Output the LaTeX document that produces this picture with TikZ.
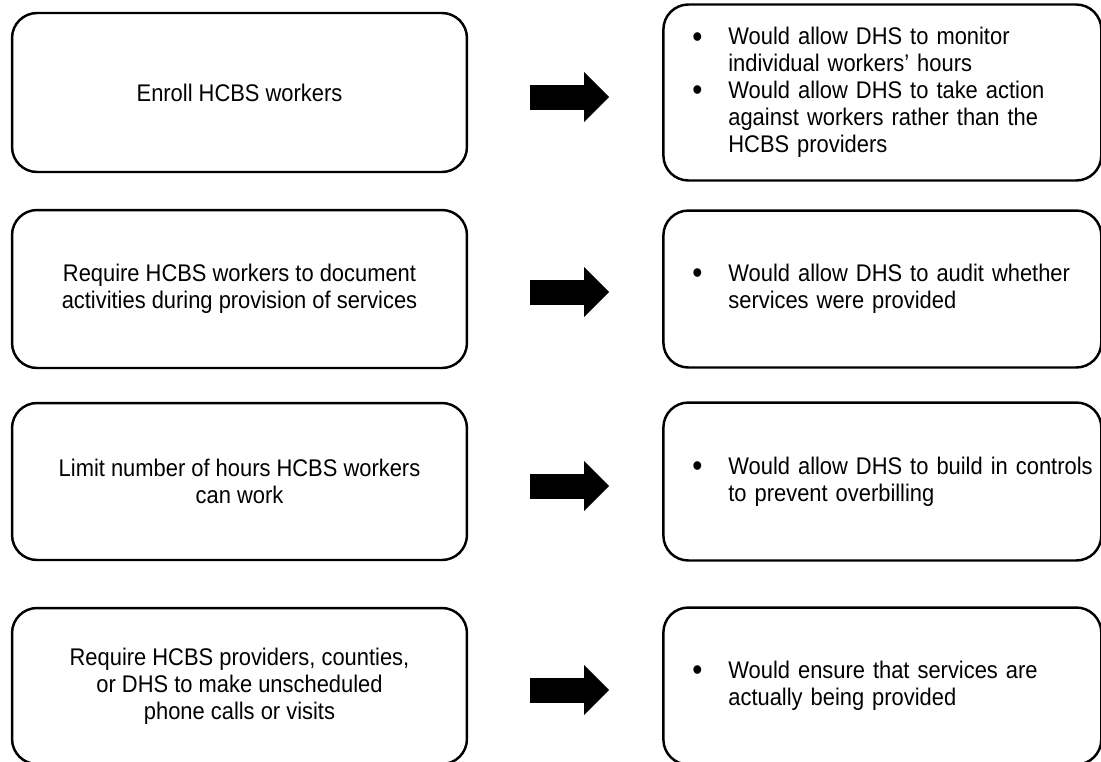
\documentclass[tikz,border=0pt]{standalone}
\usepackage{fontspec}
\setmainfont{Liberation Sans}[FakeStretch=0.91]
\usetikzlibrary{arrows.meta, positioning}
\newcommand{\bpoint}[1]{\mbox{\makebox[0.72cm][l]{\raisebox{-1.2pt}{\fontsize{18}{18}\selectfont\textbullet}}#1}}
\newcommand{\bcont}[1]{\mbox{\hspace*{0.72cm}#1}}
\tikzset{
  % Box styles
  actionbox/.style={rectangle, rounded corners=0.5cm, draw=black, line width=1.4pt, minimum width=9.1cm, align=center, font=\fontsize{13.7}{15.3}\selectfont},
  effectbox/.style={rectangle, rounded corners=0.5cm, draw=black, line width=1.4pt, minimum width=8.76cm, text width=7.6cm, inner xsep=0.58cm, align=left, font=\fontsize{13.7}{15.3}\selectfont},
  % Arrow styles
  fatarrow/.style={line width=0.5cm, -{Triangle[length=0.5cm, width=1cm, line width=0pt]}}
}

\begin{document}
\begin{tikzpicture}[x=0.02cm, y=-0.02cm]
  \useasboundingbox (0,0) rectangle (1101,761);

  % Measures on the left
  \node[actionbox, minimum height=3.18cm] (l1) at (239.5,92.5) {Enroll HCBS workers};
  \node[actionbox, minimum height=3.16cm] (l2) at (239.5,289) {Require HCBS workers to document\\activities during provision of services};
  \node[actionbox, minimum height=3.14cm] (l3) at (239.5,481.5) {Limit number of hours HCBS workers\\can work};
  \node[actionbox, minimum height=3.12cm] (l4) at (239.5,686) {Require HCBS providers, counties,\\or DHS to make unscheduled\\phone calls or visits};

  % Effects on the right
  \node[effectbox, minimum height=3.52cm, right=3.88cm of l1] (r1) {\bpoint{Would allow DHS to monitor}\\\bcont{individual workers' hours}\\\bpoint{Would allow DHS to take action}\\\bcont{against workers rather than the}\\\bcont{HCBS providers}};
  \node[effectbox, minimum height=3.14cm, right=3.88cm of l2] (r2) {\bpoint{Would allow DHS to audit whether}\\\bcont{services were provided}};
  \node[effectbox, minimum height=3.16cm, right=3.88cm of l3] (r3) {\bpoint{Would allow DHS to build in controls}\\\bcont{to prevent overbilling}};
  \node[effectbox, minimum height=3.14cm, right=3.88cm of l4] (r4) {\bpoint{Would ensure that services are}\\\bcont{actually being provided}};

  % Arrows
  \draw[fatarrow] ([shift={(1.24cm,-0.09cm)}]l1.east) -- ([shift={(-1.06cm,-0.09cm)}]r1.west);
  \draw[fatarrow] ([shift={(1.24cm,-0.06cm)}]l2.east) -- ([shift={(-1.06cm,-0.06cm)}]r2.west);
  \draw[fatarrow] ([shift={(1.24cm,-0.09cm)}]l3.east) -- ([shift={(-1.06cm,-0.09cm)}]r3.west);
  \draw[fatarrow] ([shift={(1.24cm,-0.08cm)}]l4.east) -- ([shift={(-1.06cm,-0.08cm)}]r4.west);
\end{tikzpicture}
\end{document}
